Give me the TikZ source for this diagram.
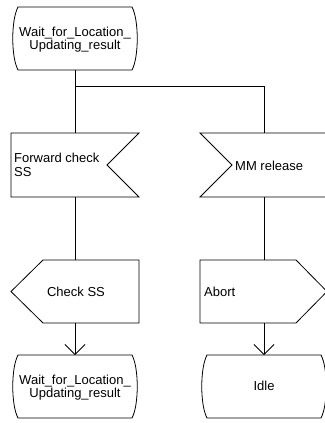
\documentclass[tikz,border=0pt]{standalone}
\usepackage{fontspec}
\setmainfont{Liberation Sans}
\usetikzlibrary{arrows.meta}
\begin{document}
\begin{tikzpicture}[x=1pt,y=-1pt,
  shp/.style={draw=none, inner sep=0pt, outer sep=0pt},
  lbl/.style={font=\fontsize{13}{13.5}\selectfont, inner sep=0pt, align=center},
  lbll/.style={font=\fontsize{13}{14}\selectfont, inner sep=0pt, align=left},
  outline/.style={draw=black, line width=0.8pt, line join=miter},
  conn/.style={draw=black, line width=0.8pt},
  arr/.style={conn, -{Straight Barb[length=10pt,width=20pt,line width=0.8pt]}}
]
\useasboundingbox (0,0) rectangle (324,423);

% ---- symbol frames (named nodes) ----
\node[shp, minimum width=126pt, minimum height=63pt] (s1) at (75,38.5) {};
\node[shp, minimum width=128pt, minimum height=64pt] (fc) at (75,165) {};
\node[shp, minimum width=128pt, minimum height=64pt] (mm) at (264,165) {};
\node[shp, minimum width=128pt, minimum height=63pt] (cs) at (75,291.5) {};
\node[shp, minimum width=128pt, minimum height=63pt] (ab) at (264,291.5) {};
\node[shp, minimum width=126pt, minimum height=63pt] (s2) at (75,386.5) {};
\node[shp, minimum width=126pt, minimum height=63pt] (idle) at (264,386.5) {};

% ---- outlines ----
% state Wait (top)
\draw[outline] (18,7) -- (132,7) .. controls (139,20) and (139,57) .. (132,70)
  -- (18,70) .. controls (11,57) and (11,20) .. (18,7) -- cycle;
% input Forward check SS
\draw[outline] (11,133) -- (139,133) -- (107,165) -- (139,197) -- (11,197) -- cycle;
% input MM release
\draw[outline] (200,133) -- (328,133) -- (328,197) -- (200,197) -- (232,165) -- cycle;
% output Check SS
\draw[outline] (43,260) -- (139,260) -- (139,323) -- (43,323) -- (11,291.5) -- cycle;
% output Abort
\draw[outline] (200,260) -- (296,260) -- (327,291.5) -- (296,323) -- (200,323) -- cycle;
% state Wait (bottom)
\draw[outline] (18,355) -- (132,355) .. controls (139,368) and (139,405) .. (132,418)
  -- (18,418) .. controls (11,405) and (11,368) .. (18,355) -- cycle;
% state Idle
\draw[outline] (207,355) -- (321,355) .. controls (328,368) and (328,405) .. (321,418)
  -- (207,418) .. controls (200,405) and (200,368) .. (207,355) -- cycle;

% ---- texts ----
\node[lbl] (t1) at (75,39.5) {Wait\_for\_Location\_\\Updating\_result};
\node[lbll, anchor=west] (t2) at (14,165) {Forward check\\SS};
\node[lbll, anchor=west] (t3) at (235,165.5) {MM release};
\node[lbl] (t4) at (76,291.5) {Check SS};
\node[lbll, anchor=west] (t5) at (204,291.5) {Abort};
\node[lbl] (t6) at (75,387.5) {Wait\_for\_Location\_\\Updating\_result};
\node[lbl] (t7) at (264,386) {Idle};

% ---- connectors ----
\coordinate (br) at (75,86);
\draw[conn] (s1.south) -- (fc.north);
\draw[conn] (br) -| (mm.north);
\draw[conn] (fc.south) -- (cs.north);
\draw[conn] (mm.south) -- (ab.north);
\draw[arr] (cs.south) -- (s2.north);
\draw[arr] (ab.south) -- (idle.north);
\end{tikzpicture}
\end{document}
